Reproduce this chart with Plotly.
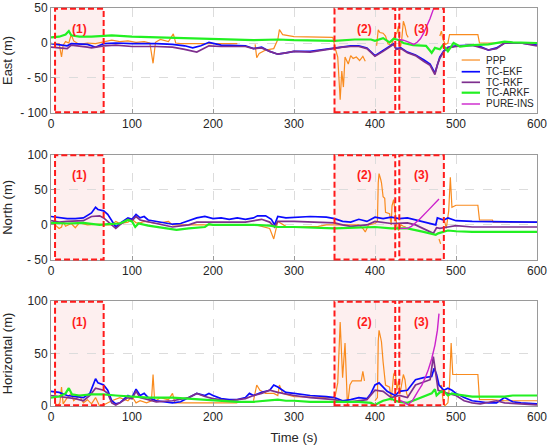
import plotly.graph_objects as go
from plotly.subplots import make_subplots

# ============================================================
# DATA - (time s, error m), None = gap
# ============================================================
series_names = ["PPP", "TC-EKF", "TC-RKF", "TC-ARKF", "PURE-INS"]
series_colors = ["#F98B1E", "#0A0AFF", "#7E2F8E", "#22F022", "#CC22CC"]
series_widths = [1.2, 1.7, 1.7, 2.2, 1.4]

# regions (1), (2), (3)
region_labels = ["(1)", "(2)", "(3)"]
region_start = [5, 350, 430]
region_end = [65, 425, 485]

# ---------- East ----------
east_ppp = [(5, -2), (10, -1), (13, -20), (15, -3), (18, 2), (22, 0), (25, 12), (28, 3), (35, -2), (45, 0),
            (55, -1), (65, 1), (75, 4), (85, 2), (95, 3), (105, 1), (115, 2), (122, 0), (126, -29), (129, 1),
            (135, 5), (145, 2), (151, 13), (154, 0), (160, -1), (230, -1), (240, None), (252, -2), (254, -21),
            (257, -15), (265, -10), (275, -8), (280, 5), (282, 19), (286, 12), (300, 9), (348, 8), (351, -8),
            (354, -20), (357, -81), (359, -40), (361, -63), (363, -20), (367, -30), (370, -18), (373, -22),
            (377, -20), (381, -25), (385, -19), (388, -26), (392, None), (402, -4), (404, 19), (406, 15),
            (410, 14), (413, 10), (416, -1), (420, -3), (425, 12), (427, 14), (429, 24), (431, -9), (433, 5),
            (435, 31), (437, 24), (439, 12), (441, 8), (460, None), (480, 10), (482, 17), (484, 5), (487, -2),
            (490, 0), (492, 12), (527, 12), (529, 0), (600, 0)]
east_ekf = [(0, -1), (10, -2), (20, -4), (25, -1), (35, -1), (45, -2), (55, -6), (60, -4), (65, -1), (80, 0),
            (100, -1), (130, -1), (150, -2), (165, -4), (175, -7), (185, -4), (195, 1), (210, -3), (230, -3),
            (240, -4), (250, -8), (260, -6), (270, -12), (280, -16), (290, -14), (300, -12), (320, -12),
            (340, -9), (350, -7), (360, -6), (370, -4), (380, -4), (390, -7), (400, -18), (410, -11), (420, -3),
            (423, -1), (426, -8), (432, -7), (440, -13), (450, -17), (460, -24), (468, -30), (474, -43),
            (477, -30), (480, -20), (485, -11), (490, -6), (500, -4), (520, -3), (530, -5), (540, -10),
            (550, -7), (560, 0), (580, 0), (600, -3)]
east_rkf = [(0, -6), (10, -7), (20, -8), (25, -3), (35, -4), (45, -6), (50, -7), (60, -5), (65, -4), (80, -3),
            (100, -5), (130, -5), (150, -6), (165, -9), (180, -13), (195, -4), (210, -5), (230, -5), (240, -5),
            (250, -8), (260, -7), (270, -12), (280, -16), (290, -14), (300, -12), (320, -13), (340, -9),
            (350, -8), (360, -6), (370, -5), (380, -5), (390, -8), (400, -19), (410, -12), (420, -4), (423, -2),
            (426, -9), (432, -8), (440, -14), (450, -18), (460, -26), (468, -32), (474, -45), (477, -31),
            (480, -22), (485, -12), (490, -7), (500, -5), (520, -3), (530, -6), (540, -10), (550, -8), (560, 0),
            (580, 0), (600, -4)]
east_arkf = [(0, 8), (10, 9), (18, 12), (22, 17), (25, 11), (35, 9), (50, 9), (65, 10), (75, 11), (100, 9),
             (150, 7), (200, 5), (250, 4), (280, 5), (300, 4), (350, 3), (375, 5), (395, 5), (400, 3), (410, 7),
             (418, 1), (423, 6), (430, 4), (435, 0), (447, -3), (463, -4), (470, -14), (474, -7), (480, -9),
             (484, -3), (490, -12), (497, 0), (505, -5), (520, -3), (540, -2), (560, 2), (570, 1), (600, 0)]
east_ins = [(429, 5), (435, 4), (440, 2), (445, -1), (448, -2), (452, 1), (456, 6), (460, 14), (464, 24),
            (468, 35), (472, 48), (476, 62), (480, 78)]

# ---------- North ----------
north_ppp = [(5, 0), (10, -5), (13, -3), (15, 5), (18, -2), (25, 2), (30, -4), (35, 3), (45, 0), (60, 1),
             (65, 0), (75, 0), (80, 5), (85, 2), (95, 4), (100, 8), (105, 3), (110, 3), (115, 5), (130, 2),
             (140, 4), (145, 5), (150, 0), (200, 0), (230, 0), (240, None), (250, 1), (260, -2), (270, -5),
             (275, -20), (278, -3), (280, 5), (290, -2), (300, -3), (330, -2), (340, 0), (380, 0), (385, -5),
             (388, -10), (392, 0), (400, 2), (403, 5), (404, 60), (405, 73), (407, 65), (408, 60), (410, 40),
             (412, 38), (413, 18), (418, 16), (420, 0), (421, 27), (423, 36), (425, 13), (427, -2), (429, -8),
             (432, 0), (435, -2), (438, -3), (460, None), (479, -20), (481, -27), (483, None), (486, 5),
             (488, -5), (491, 20), (493, 68), (495, 25), (500, 28), (527, 28), (529, 7), (545, 7), (546, 4),
             (600, 4)]
north_ekf = [(0, 12), (10, 10), (20, 9), (30, 9), (40, 10), (50, 17), (55, 25), (58, 22), (65, 20), (70, 15),
             (75, 5), (80, -3), (85, 2), (95, 10), (100, 8), (105, 15), (110, 10), (115, 12), (120, 7), (130, 5),
             (140, 4), (150, 1), (160, 2), (170, 6), (180, 10), (190, 12), (200, 9), (210, 10), (220, 8),
             (230, 10), (240, 8), (250, 10), (255, 13), (265, 13), (272, 8), (276, 0), (280, 12), (290, 10),
             (300, 11), (320, 12), (340, 11), (350, 9), (360, 5), (370, 4), (380, 8), (390, 5), (400, 11),
             (410, 9), (420, 11), (430, 9), (440, 10), (450, 7), (460, 4), (470, 1), (475, 0), (477, 10),
             (480, 9), (485, 7), (490, 10), (500, 6), (520, 5), (560, 4), (600, 4)]
north_rkf = [(0, 6), (10, 4), (20, 5), (40, 6), (50, 12), (60, 13), (65, 10), (75, 0), (80, -5), (85, 0),
             (95, 8), (100, 6), (105, 12), (110, 7), (120, 4), (130, 2), (150, -3), (170, 0), (180, 4),
             (200, 4), (220, 5), (240, 4), (260, 8), (270, 4), (276, -3), (280, 5), (300, 5), (350, 3),
             (360, 0), (370, -2), (390, 0), (400, 5), (420, 2), (440, 3), (450, 0), (460, -5), (472, -12),
             (476, -4), (480, -5), (490, -3), (500, -1), (520, -3), (600, -3)]
north_arkf = [(0, 3), (20, 2), (40, 3), (60, 0), (70, 1), (85, 2), (95, 7), (100, 5), (104, -3), (108, 2),
              (120, -1), (140, -5), (155, -7), (170, -5), (190, -3), (195, 1), (200, 0), (250, 0), (270, -1),
              (280, -3), (300, -3), (350, -5), (380, -4), (400, -3), (420, -5), (440, -5), (460, -10),
              (475, -14), (478, -12), (490, -8), (500, -9), (520, -10), (600, -10)]
north_ins = [(429, -5), (440, -5), (445, -2), (455, 8), (465, 20), (479, 37)]

# ---------- Horizontal ----------
horiz_ppp = [(5, 3), (8, 0), (11, 3), (13, 18), (15, 2), (20, 8), (25, 12), (28, 5), (35, 10), (40, 3),
             (45, 6), (50, 2), (55, 8), (60, 0), (65, 1), (75, 5), (85, 8), (95, 5), (100, 9), (105, 3),
             (110, 5), (118, 3), (124, 5), (126, 30), (128, 4), (135, 8), (145, 6), (150, 12), (153, 3),
             (160, 3), (230, 3), (240, None), (250, 5), (254, 20), (258, 15), (265, 12), (275, 12), (280, 10),
             (282, 20), (286, 12), (300, 9), (348, 8), (351, 10), (354, 22), (357, 80), (360, 27), (363, 60),
             (366, 0), (369, 20), (372, 24), (383, 24), (385, 33), (387, 24), (392, None), (400, 5), (403, 8),
             (404, 62), (405, 72), (407, 65), (408, 61), (410, 42), (413, 20), (418, 18), (420, 5), (423, 30),
             (425, 33), (427, 15), (429, 24), (431, 12), (435, 30), (437, 25), (439, 12), (441, 8),
             (460, None), (480, 18), (482, 20), (484, 5), (486, 0), (490, 3), (492, 20), (494, 60), (496, 30),
             (500, 30), (527, 30), (529, 6), (545, 6), (560, 5), (600, 5)]
horiz_ekf = [(0, 14), (10, 13), (20, 10), (30, 9), (40, 8), (48, 12), (55, 26), (58, 22), (65, 20), (70, 15),
             (75, 5), (80, 2), (85, 3), (95, 10), (100, 8), (105, 16), (110, 10), (115, 12), (120, 8),
             (130, 5), (140, 4), (150, 3), (160, 4), (170, 8), (180, 12), (190, 10), (195, 12), (200, 10),
             (210, 7), (220, 6), (230, 6), (240, 8), (245, 12), (250, 10), (260, 13), (270, 15), (275, 20),
             (280, 18), (290, 13), (300, 12), (320, 10), (340, 9), (350, 8), (360, 5), (370, 6), (380, 8),
             (390, 7), (395, 12), (400, 20), (405, 22), (410, 18), (415, 14), (420, 12), (425, 10), (430, 14),
             (440, 15), (450, 25), (460, 27), (470, 28), (473, 36), (476, 30), (479, 20), (485, 15), (490, 17),
             (495, 15), (500, 12), (510, 8), (520, 5), (540, 3), (550, 3), (560, 8), (570, 4), (580, 3),
             (600, 2)]
horiz_rkf = [(0, 10), (10, 9), (20, 8), (30, 7), (40, 5), (48, 10), (55, 17), (60, 16), (65, 15), (70, 12),
             (75, 3), (80, 1), (85, 3), (95, 8), (100, 7), (105, 14), (110, 8), (120, 6), (130, 4), (150, 5),
             (170, 8), (180, 12), (190, 9), (200, 7), (220, 5), (240, 7), (250, 10), (260, 12), (270, 15),
             (280, 13), (300, 10), (320, 8), (350, 6), (360, 4), (370, 4), (390, 6), (400, 15), (410, 14),
             (420, 8), (430, 10), (440, 8), (450, 20), (460, 23), (468, 25), (472, 47), (475, 30), (478, 15),
             (490, 12), (500, 10), (510, 5), (520, 3), (530, 2), (550, 5), (560, 3), (580, 2), (600, 1)]
horiz_arkf = [(0, 8), (10, 9), (18, 12), (22, 17), (26, 11), (35, 10), (50, 11), (65, 11), (80, 10),
              (100, 9), (120, 8), (150, 8), (170, 7), (200, 5), (230, 4), (250, 4), (270, 5), (280, 6),
              (290, 5), (300, 5), (320, 4), (350, 4), (380, 4), (395, 3), (400, 1), (405, 3), (410, 5),
              (420, 7), (425, 5), (430, 4), (440, 3), (450, 6), (460, 9), (470, 12), (474, 16), (476, 10),
              (480, 13), (485, 14), (490, 10), (495, 12), (500, 11), (520, 9), (540, 9), (560, 9), (570, 10),
              (600, 10)]
horiz_ins = [(429, 6), (435, 4), (441, 1), (447, 6), (453, 14), (458, 20), (462, 27), (466, 35), (470, 45),
             (474, 58), (477, 72), (479, 88)]

panels = [
    ("East (m)", [east_ppp, east_ekf, east_rkf, east_arkf, east_ins],
     [-100, 50], [-100, -50, 0, 50], ["- 100", "- 50", "0", "50"]),
    ("North (m)", [north_ppp, north_ekf, north_rkf, north_arkf, north_ins],
     [-50, 100], [-50, 0, 50, 100], ["- 50", "0", "50", "100"]),
    ("Horizontal (m)", [horiz_ppp, horiz_ekf, horiz_rkf, horiz_arkf, horiz_ins],
     [0, 100], [0, 50, 100], ["0", "50", "100"]),
]

# ============================================================
# FIGURE
# ============================================================
FONT = "Arial, Liberation Sans, sans-serif"
TXT = "#262626"
FRAME = "#9a9a9a"
RED = "#FF1A1A"

fig = make_subplots(rows=3, cols=1)

domains = [[0.7362, 1.0], [0.3668, 0.6314], [0.0, 0.2638]]

for r, (title, data, yrange, yticks, ylabels) in enumerate(panels, start=1):
    xr = "x" if r == 1 else f"x{r}"
    yr = "y domain" if r == 1 else f"y{r} domain"

    # highlighted regions: pale fill under the curves
    for x0, x1 in zip(region_start, region_end):
        fig.add_shape(type="rect", xref=xr, yref=yr, x0=x0, x1=x1, y0=0, y1=1,
                      fillcolor="#FDEFEF", line=dict(width=0), layer="below")

    for name, color, width, pts in zip(series_names, series_colors, series_widths, data):
        fig.add_trace(go.Scatter(
            x=[p[0] for p in pts], y=[p[1] for p in pts],
            mode="lines", name=name, showlegend=False,
            line=dict(color=color, width=width), connectgaps=False,
        ), row=r, col=1)

    fig.update_yaxes(title=dict(text=title, font=dict(size=13, color=TXT)),
                     range=yrange, tickvals=yticks, ticktext=ylabels,
                     domain=domains[r - 1], row=r, col=1)
    fig.update_xaxes(range=[0, 600], tickvals=[0, 100, 200, 300, 400, 500, 600], row=r, col=1)

    # dashed red outlines + labels
    for lab, x0, x1 in zip(region_labels, region_start, region_end):
        fig.add_shape(type="rect", xref=xr, yref=yr, x0=x0, x1=x1, y0=0.006, y1=0.994,
                      line=dict(color=RED, width=2, dash="6px,3px"), layer="above")
        fig.add_annotation(xref=xr, yref=yr, x=(x0 + x1) / 2, y=0.89, text="<b>" + lab + "</b>",
                           showarrow=False, font=dict(size=12, color=RED, family=FONT))

fig.update_xaxes(showline=True, linecolor=FRAME, linewidth=1, mirror=True,
                 ticks="inside", ticklen=4, tickcolor=FRAME, automargin=False,
                 showgrid=True, gridcolor="#dcdcdc", griddash="dash", gridwidth=1,
                 zeroline=False, tickfont=dict(size=12, color=TXT))
fig.update_yaxes(showline=True, linecolor=FRAME, linewidth=1, mirror=True,
                 ticks="inside", ticklen=4, tickcolor=FRAME, automargin=False,
                 showgrid=True, gridcolor="#dcdcdc", griddash="dash", gridwidth=1,
                 zeroline=False, tickfont=dict(size=12, color=TXT))
fig.update_xaxes(title=dict(text="Time (s)", font=dict(size=13, color=TXT)), row=3, col=1)

# legend box (top panel, lower right)
fig.add_shape(type="rect", xref="paper", yref="paper", x0=0.837, x1=0.997, y0=0.745, y1=0.883,
              fillcolor="white", line=dict(width=0), layer="above")
leg_y = [0.8693, 0.8399, 0.8133, 0.7872, 0.7588]
for name, color, width, yy in zip(series_names, series_colors, series_widths, leg_y):
    fig.add_shape(type="line", xref="paper", yref="paper", x0=0.845, x1=0.8827, y0=yy, y1=yy,
                  line=dict(color=color, width=width), layer="above")
    fig.add_annotation(xref="paper", yref="paper", x=0.891, y=yy, text=name,
                       xanchor="left", yanchor="middle",
                       showarrow=False, font=dict(size=10, color=TXT, family=FONT))

fig.update_layout(
    width=550, height=445,
    margin=dict(l=51, r=13, t=8, b=39),
    plot_bgcolor="white", paper_bgcolor="white",
    font=dict(family=FONT, color=TXT),
    showlegend=False,
)

# page without the default body margin so the figure sits at the window origin
fig.write_html("out.html", config={"displayModeBar": False},
               post_script="document.body.style.margin='0';")
